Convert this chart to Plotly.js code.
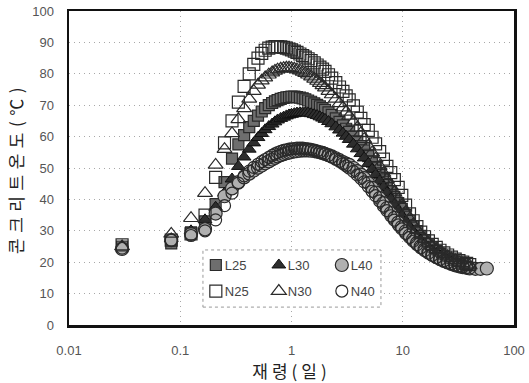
<!DOCTYPE html>
<html>
<head>
<meta charset="utf-8">
<script src="https://cdn.plot.ly/plotly-3.0.1.min.js"></script>
<style>
html,body{margin:0;padding:0;background:#fff;}
#chart{width:529px;height:383px;}
#chart .g-xtitle text{letter-spacing:4px;}
#chart .g-ytitle text{letter-spacing:5.5px;}
</style>
</head>
<body>
<div id="chart"></div>
<script>
// Age (days)
const ageDays = [0.03,0.083,0.125,0.167,0.208,0.25,0.292,0.333,0.375,0.417,0.458,0.5,0.54,0.58,0.625,0.67,0.71,0.75,0.8,0.85,0.9,0.95,1.0,1.06,1.12,1.19,1.26,1.33,1.41,1.5,1.6,1.7,1.8,1.9,2.0,2.15,2.3,2.5,2.7,2.9,3.1,3.3,3.6,3.9,4.2,4.5,4.9,5.3,5.7,6.2,6.7,7.2,7.8,8.4,9.1,9.8,10.6,11.5,12.4,13.4,14.5,15.7,17,18.4,20,21.6,23.4,25.3,27.4,29.6,32,34.6,37.5,40];
const ageDaysL40 = ageDays.concat([45,50,57]);

// Concrete temperature (°C)
const L25 = [25,26,29.5,33,38.5,45.5,53,57.5,60.5,63,65,66.7,68,69.1,70,70.7,71.2,71.6,72,72.3,72.5,72.6,72.7,72.7,72.6,72.4,72.2,71.9,71.5,71.1,70.6,70.1,69.6,69.1,68.5,67.7,66.9,65.8,64.7,63.6,62.5,61.5,60,58.5,57,55.6,53.8,52,50.3,48.3,46.4,44.6,42.6,40.8,38.8,37,35.1,33.2,31.5,29.9,28.4,27,25.8,24.7,23.6,22.7,21.9,21.1,20.5,19.9,19.4,18.9,18.5,18.2];
const L30 = [25,27.5,30,33.5,37.5,42,46.5,50.5,53.5,56,58,59.7,61,62.2,63.2,64,64.7,65.3,65.8,66.2,66.6,66.9,67.1,67.3,67.5,67.6,67.6,67.6,67.5,67.3,67,66.7,66.3,65.9,65.5,64.8,64.1,63.1,62.1,61.1,60.1,59.1,57.6,56.1,54.6,53.2,51.4,49.6,47.9,45.9,44,42.2,40.2,38.4,36.5,34.8,33,31.3,29.8,28.3,27,25.8,24.7,23.7,22.8,22,21.3,20.6,20,19.5,19,18.6,18.2,17.9];
const L40 = [24.2,27,29,30.5,35.5,41,43.5,45.5,47,48.2,49.2,50.1,50.8,51.5,52.1,52.7,53.2,53.7,54.1,54.4,54.7,54.9,55.1,55.3,55.4,55.5,55.6,55.6,55.6,55.5,55.4,55.2,55,54.8,54.5,54.1,53.7,53.1,52.5,51.9,51.4,51,50,49,47.9,46.8,45.2,43.7,42.2,40.4,38.8,37.2,35.6,34.1,32.6,31.2,29.8,28.5,27.3,26.1,25.1,24.1,23.2,22.4,21.7,21,20.4,19.9,19.4,19,18.7,18.4,18.2,18,17.9,17.9,18];
const N25 = [25.5,27,29,35,47,58,65,71,76,80,83,85,86.5,87.5,88.2,88.5,88.7,88.7,88.6,88.4,88.2,87.9,87.6,87.2,86.8,86.3,85.8,85.3,84.8,84.2,83.5,82.8,82.1,81.5,80.8,79.7,78.6,77.2,75.8,74.4,73,71.7,69.8,67.8,65.8,63.8,62,59.8,57.7,55.2,52.8,50.5,48.5,46.3,43.8,41.3,38.2,35.4,33.2,31.3,29.6,28.1,26.8,25.7,24.7,23.8,23,22.3,21.6,21,20.5,20,19.6,19.2];
const N30 = [25,29,34,42,51,56,61,65.5,69,72,74.5,76.5,77.8,78.8,79.7,80.4,80.9,81.3,81.6,81.8,81.9,81.9,81.8,81.6,81.3,81,80.6,80.2,79.7,79.1,78.4,77.7,77,76.3,75.6,74.5,73.4,72,70.6,69.2,67.9,66.6,64.7,62.8,61,59.2,57,54.9,52.9,50.6,48.4,46.4,44.2,42.2,40,38,35.9,33.8,32,30.3,28.8,27.4,26.2,25.1,24.1,23.3,22.5,21.8,21.2,20.6,20.1,19.6,19.2,18.9];
const N40 = [24.5,27,28.5,30,33.5,38,42,45.2,47.5,49,50.2,51.2,52,52.7,53.4,54,54.5,54.9,55.3,55.6,55.8,56,56.1,56.2,56.3,56.3,56.3,56.2,56.1,55.9,55.7,55.4,55.1,54.8,54.5,54,53.5,52.8,52.1,51.4,50.7,50,48.9,47.8,46.7,45.6,44.1,42.6,41.2,39.5,37.9,36.4,34.8,33.4,31.9,30.6,29.2,27.9,26.7,25.6,24.6,23.7,22.9,22.2,21.5,20.9,20.4,19.9,19.5,19.1,18.8,18.5,18.3,18.1];

const seriesNames = ['L25','L30','L40','N25','N30','N40'];
const xTickVals = [0.01,0.1,1,10,100];
const xTickText = ['0.01','0.1','1','10','100'];
const yTickVals = [0,10,20,30,40,50,60,70,80,90,100];

const dark = '#2a2a2a';
const traces = [
  {name:'L25', x:ageDays, y:L25, legend:'legend', marker:{symbol:'square', size:11, color:'#6e6e6e', line:{color:dark, width:1.2}}},
  {name:'L30', x:ageDays, y:L30, legend:'legend', marker:{symbol:'triangle-up', size:12, color:'#2e2e2e', line:{color:'#111', width:1}}},
  {name:'L40', x:ageDaysL40, y:L40, legend:'legend', marker:{symbol:'circle', size:13, color:'#b0b0b0', line:{color:dark, width:1.2}}},
  {name:'N25', x:ageDays, y:N25, legend:'legend2', marker:{symbol:'square-open', size:12, color:dark, line:{width:1.2}}},
  {name:'N30', x:ageDays, y:N30, legend:'legend2', marker:{symbol:'triangle-up-open', size:13, color:dark, line:{width:1.2}}},
  {name:'N40', x:ageDays, y:N40, legend:'legend2', marker:{symbol:'circle-open', size:12, color:dark, line:{width:1.2}}}
].map(t => Object.assign({type:'scatter', mode:'markers', cliponaxis:false}, t));

const tickFont = {family:'Liberation Sans, Arial, sans-serif', size:13, color:'#555'};
const legFont = {family:'Liberation Sans, Arial, sans-serif', size:13, color:'#444'};

const layout = {
  width:529, height:383,
  margin:{l:69, r:15, t:11, b:58},
  paper_bgcolor:'#fff', plot_bgcolor:'#fff',
  showlegend:true,
  xaxis:{
    type:'log', range:[-2,2],
    tickvals:xTickVals, ticktext:xTickText,
    showgrid:true, gridcolor:'#a8a8a8', griddash:'1px,4px', gridwidth:1,
    showline:true, linecolor:'#111', linewidth:2.5, mirror:true,
    ticks:'', ticklabelstandoff:12, tickfont:tickFont, zeroline:false,
    title:{text:'재령(일)', font:{family:'Noto Sans CJK KR', size:17, color:'#222'}, standoff:8}
  },
  yaxis:{
    range:[0,100], tickvals:yTickVals,
    showgrid:true, gridcolor:'#a8a8a8', griddash:'1px,4px', gridwidth:1,
    showline:true, linecolor:'#111', linewidth:2.5, mirror:true,
    ticks:'', ticklabelstandoff:10, tickfont:tickFont, zeroline:false,
    title:{text:'콘크리트온도(℃)', font:{family:'Noto Sans CJK KR', size:17, color:'#222'}, standoff:4}
  },
  legend:{orientation:'h', x:0.285, xanchor:'left', y:0.191, yanchor:'middle', bgcolor:'rgba(0,0,0,0)', borderwidth:0, font:legFont, entrywidth:18, entrywidthmode:'pixels', traceorder:'normal'},
  legend2:{orientation:'h', x:0.285, xanchor:'left', y:0.108, yanchor:'middle', bgcolor:'rgba(0,0,0,0)', borderwidth:0, font:legFont, entrywidth:18, entrywidthmode:'pixels', traceorder:'normal'},
  shapes:[{type:'rect', xref:'paper', yref:'paper', x0:0.301, x1:0.701, y0:0.057, y1:0.239, line:{color:'#999', width:1, dash:'dot'}, fillcolor:'#fff', layer:'above'}]
};

function tightenLegendText(gd) {
  gd.querySelectorAll('.infolayer g.traces text').forEach(t => {
    if (t.dataset.shifted) return;
    const x = parseFloat(t.getAttribute('x'));
    t.setAttribute('x', (isNaN(x) ? 40 : x) - 11);
    t.dataset.shifted = '1';
  });
}

Plotly.newPlot('chart', traces, layout, {displayModeBar:false, staticPlot:true}).then(gd => {
  tightenLegendText(gd);
  setTimeout(() => tightenLegendText(gd), 50);
});
</script>
</body>
</html>
